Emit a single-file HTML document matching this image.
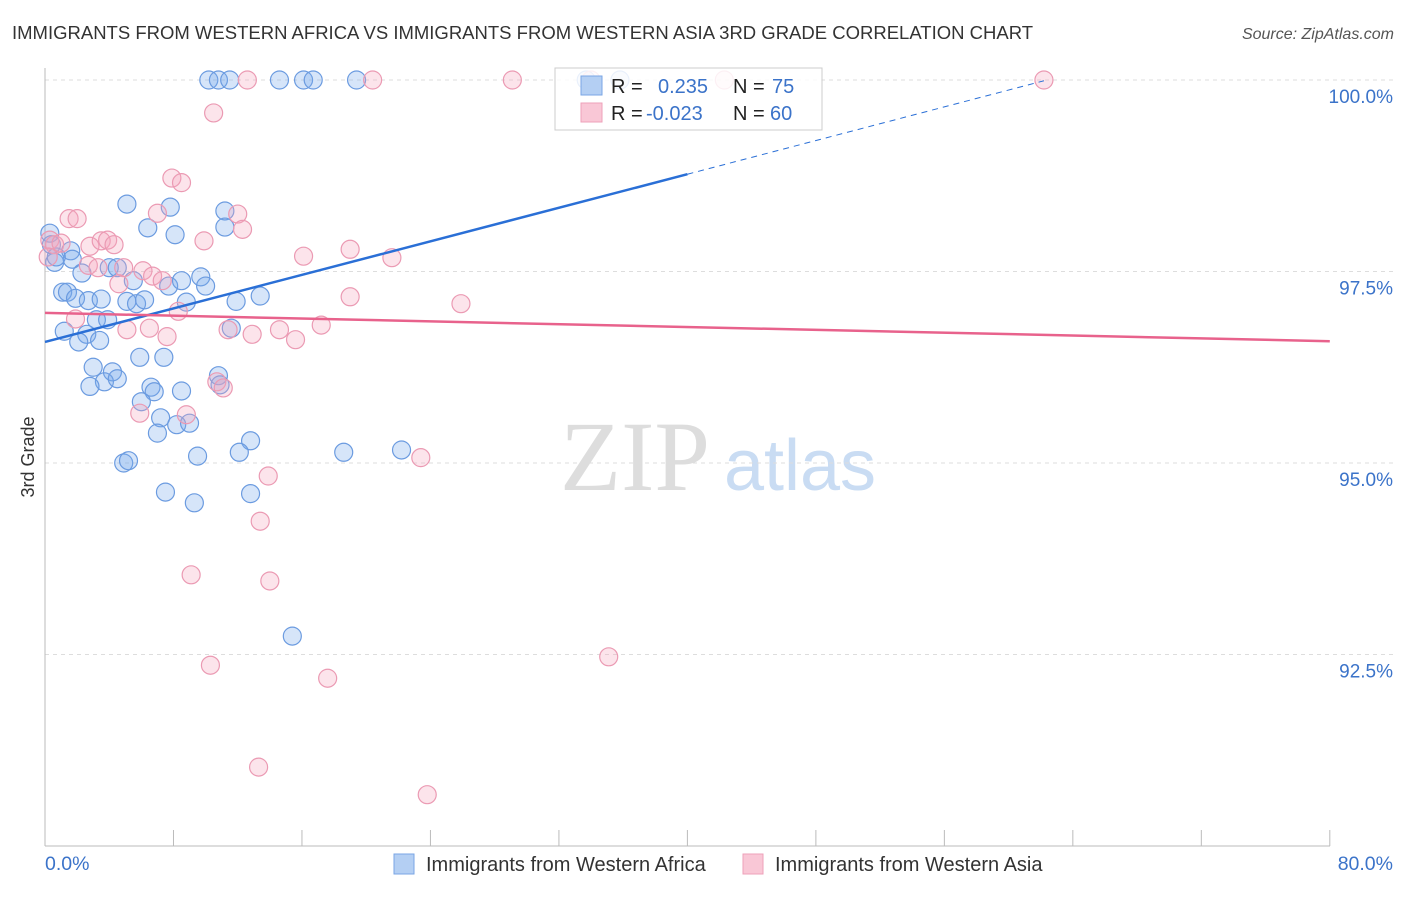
<!DOCTYPE html>
<html><head><meta charset="utf-8"><style>
body{margin:0;background:#fff;font-family:"Liberation Sans",sans-serif;}
</style></head><body>
<svg id="c" width="1406" height="892" xmlns="http://www.w3.org/2000/svg">
<text x="12" y="39" font-size="18.5" fill="#333">IMMIGRANTS FROM WESTERN AFRICA VS IMMIGRANTS FROM WESTERN ASIA 3RD GRADE CORRELATION CHART</text>
<text x="1394" y="39" font-size="16" fill="#555" font-style="italic" text-anchor="end">Source: ZipAtlas.com</text>
<text x="635" y="490" font-size="100" fill="#ddd" font-family="Liberation Serif,serif" text-anchor="middle">ZIP</text>
<text x="800" y="490" font-size="72" fill="#c9dcf3" text-anchor="middle">atlas</text>
<g id="grid"></g><g id="axes"></g><g id="pts"></g><g id="lines"></g>
<text x="34" y="457" font-size="18" fill="#333" text-anchor="middle" transform="rotate(-90 34 457)">3rd Grade</text>
<text x="45" y="870" font-size="19.5" fill="#3b73c9">0.0%</text>
<text x="1393" y="870" font-size="19.5" fill="#3b73c9" text-anchor="end">80.0%</text>
<g>
<rect x="555" y="68" width="267" height="62" fill="#fff" fill-opacity="0.85" stroke="#ccc"/>
<rect x="581" y="76" width="21" height="19" fill="#b4cff3" stroke="#7aa6e4"/>
<rect x="581" y="103" width="21" height="19" fill="#f9c7d6" stroke="#eea0b9"/>
<text x="611" y="93" font-size="20" fill="#222">R =</text>
<text x="658" y="93" font-size="20" fill="#3b73c9">0.235</text>
<text x="733" y="93" font-size="20" fill="#222">N =</text>
<text x="772" y="93" font-size="20" fill="#3b73c9">75</text>
<text x="611" y="120" font-size="20" fill="#222">R =</text>
<text x="646" y="120" font-size="20" fill="#3b73c9">-0.023</text>
<text x="733" y="120" font-size="20" fill="#222">N =</text>
<text x="770" y="120" font-size="20" fill="#3b73c9">60</text>
</g>
<g>
<rect x="394" y="854" width="20" height="20" fill="#b4cff3" stroke="#7aa6e4"/>
<text x="426" y="871" font-size="20" fill="#333">Immigrants from Western Africa</text></g>
<g>
<rect x="743" y="854" width="20" height="20" fill="#f9c7d6" stroke="#eea0b9"/>
<text x="775" y="871" font-size="20" fill="#333">Immigrants from Western Asia</text></g>
</svg>
<script>
const yTicks=[100,97.5,95,92.5];
const yTickLabels=["100.0%","97.5%","95.0%","92.5%"];
const xTicks=[0,8,16,24,32,40,48,56,64,72,80];
const blueX=[10.2,10.8,11.5,14.6,16.1,16.7,19.4,33.7,35.8,5.1,7.8,11.2,6.4,8.1,11.2,0.3,0.4,0.6,1.6,1.7,0.7,2.3,4.0,4.5,5.5,7.7,8.5,9.7,10.0,1.1,1.4,1.9,2.7,3.5,5.1,5.7,6.2,8.8,11.9,13.4,1.2,2.6,3.2,3.9,2.1,3.4,11.6,3.0,4.2,5.9,7.4,3.7,4.5,2.8,6.6,6.8,8.5,10.8,10.9,6.0,7.2,7.0,8.2,9.0,12.8,12.1,9.5,4.9,5.2,18.6,22.2,7.5,9.3,12.8,15.4];
const blueY=[100,100,100,100,100,100,100,100,100,98.38,98.34,98.29,98.07,97.98,98.08,98.0,97.85,97.62,97.77,97.66,97.69,97.48,97.55,97.55,97.38,97.31,97.38,97.43,97.31,97.23,97.23,97.15,97.12,97.14,97.11,97.08,97.13,97.1,97.11,97.18,96.72,96.68,96.87,96.87,96.58,96.6,96.76,96.25,96.19,96.38,96.38,96.06,96.1,96.0,95.99,95.93,95.94,96.14,96.02,95.8,95.59,95.39,95.5,95.52,95.29,95.14,95.09,95.0,95.03,95.14,95.17,94.62,94.48,94.6,92.74];
const pinkX=[12.6,20.4,29.1,34.0,42.3,62.2,10.5,7.9,8.5,7.0,12.0,12.3,1.5,2.0,9.9,19.0,16.1,21.6,0.3,0.6,1.0,2.8,3.5,3.9,4.3,0.2,2.7,3.3,4.9,6.1,6.7,7.3,4.6,19.0,25.9,8.3,17.2,14.6,15.6,12.9,11.4,5.1,6.5,7.6,1.9,10.7,11.1,5.9,8.8,23.4,13.9,13.4,9.1,14.0,10.3,35.1,17.6,13.3,23.8];
const pinkY=[100,100,100,100,100,100,99.57,98.72,98.66,98.26,98.25,98.05,98.19,98.19,97.9,97.79,97.7,97.68,97.91,97.85,97.87,97.83,97.9,97.91,97.85,97.69,97.58,97.55,97.55,97.51,97.44,97.38,97.34,97.17,97.08,96.98,96.8,96.74,96.61,96.68,96.74,96.74,96.76,96.65,96.88,96.06,95.98,95.65,95.63,95.07,94.83,94.24,93.54,93.46,92.36,92.47,92.19,91.03,90.67];
const blueTrend=[96.58,98.77,99.99]; const blueTrendX=[0,40,62.2];
const pinkTrend=[96.96,96.59]; const pinkTrendX=[0,80];
const X=v=>45+v*16.06, Y=v=>80+(100-v)*76.6;
const NS="http://www.w3.org/2000/svg";
function mk(p,t,a){const e=document.createElementNS(NS,t);for(const k in a)e.setAttribute(k,a[k]);p.appendChild(e);return e;}
const grid=document.getElementById('grid'),axes=document.getElementById('axes'),pts=document.getElementById('pts'),lines=document.getElementById('lines');
yTicks.forEach((t,i)=>{const l=mk(grid,'line',{x1:45,x2:1393,y1:Y(t),y2:Y(t),stroke:'#ddd','stroke-dasharray':'4,4'});


const tx=mk(grid,'text',{x:1393,y:Y(t)+23,'font-size':19,fill:'#3b73c9','text-anchor':'end'});tx.textContent=yTickLabels[i];

});
const ax=mk(axes,'line',{x1:45,x2:45,y1:68,y2:846,stroke:'#bbb'});


const bx=mk(axes,'line',{x1:45,x2:1330,y1:846,y2:846,stroke:'#bbb'});


xTicks.forEach(t=>{const l=mk(axes,'line',{x1:X(t),x2:X(t),y1:830,y2:846,stroke:'#bbb'});

});
blueX.forEach((x,i)=>{const c=mk(pts,'circle',{cx:X(x),cy:Y(blueY[i]),r:9,fill:'rgba(120,170,235,0.3)',stroke:'#6b9be0','stroke-width':1.2});

});
pinkX.forEach((x,i)=>{const c=mk(pts,'circle',{cx:X(x),cy:Y(pinkY[i]),r:9,fill:'rgba(245,165,190,0.3)',stroke:'#eb9ab3','stroke-width':1.2});

});
const b1=mk(lines,'line',{x1:X(blueTrendX[0]),y1:Y(blueTrend[0]),x2:X(blueTrendX[1]),y2:Y(blueTrend[1]),stroke:'#2a6fd6','stroke-width':2.5});


const b2=mk(lines,'line',{x1:X(blueTrendX[1]),y1:Y(blueTrend[1]),x2:X(blueTrendX[2]),y2:Y(blueTrend[2]),stroke:'#2a6fd6','stroke-width':1,'stroke-dasharray':'6,5'});


const p1=mk(lines,'line',{x1:X(pinkTrendX[0]),y1:Y(pinkTrend[0]),x2:X(pinkTrendX[1]),y2:Y(pinkTrend[1]),stroke:'#e8628c','stroke-width':2.5});


</script>
</body></html>
